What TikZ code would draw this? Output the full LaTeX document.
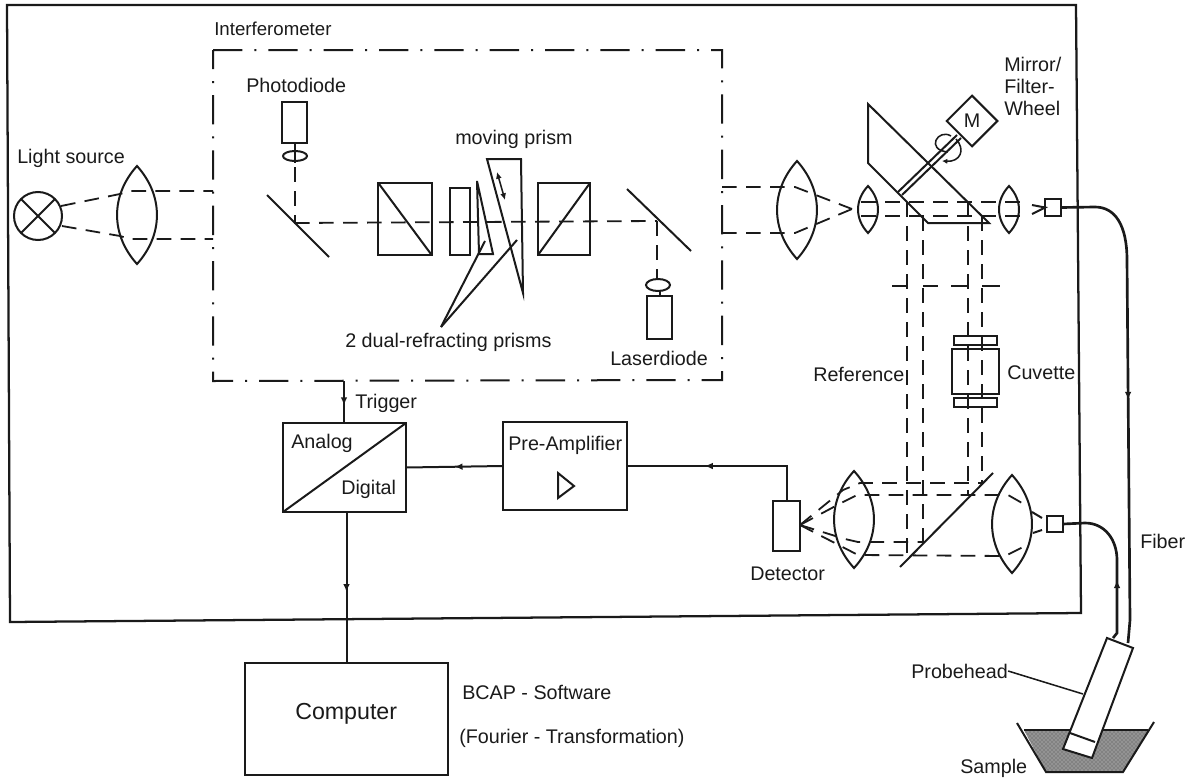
\documentclass[tikz,border=0pt]{standalone}
\usepackage{fontspec}
\setmainfont{Liberation Sans}
\usetikzlibrary{arrows.meta,decorations.markings,shapes.geometric,patterns}
\definecolor{ink}{HTML}{1A1A1A}
\tikzset{
  x=0.75pt,y=-0.75pt,
  solidline/.style={draw=ink,line width=1.5pt},
  frameline/.style={draw=ink,line width=1.7pt},
  thinline/.style={draw=ink,line width=1.15pt},
  fiberline/.style={draw=ink,line width=2pt},
  beam/.style={draw=ink,line width=1.35pt,dash pattern=on 11pt off 7pt},
  dashdot/.style={draw=ink,line width=1.5pt,dash pattern=on 22pt off 9pt on 1.5pt off 9pt},
  lbl/.style={anchor=west,inner sep=0pt,text=ink,font=\fontsize{14.8pt}{16.6pt}\selectfont,align=left},
  boxn/.style={draw=ink,line width=1.5pt,inner sep=0pt,outer sep=0pt},
  midarrow/.style={postaction={decorate,decoration={markings,mark=at position #1 with {\arrow{Latex[length=6pt,width=5pt]}}}}},
}
\newcommand{\lensat}[4]{% x, ytop, ybottom, half-width
  \draw[solidline] (#1,#2) .. controls ({#1-1.33*#4},{#2+0.3*(#3-#2)}) and ({#1-1.33*#4},{#2+0.7*(#3-#2)}) .. (#1,#3)
     .. controls ({#1+1.33*#4},{#2+0.7*(#3-#2)}) and ({#1+1.33*#4},{#2+0.3*(#3-#2)}) .. cycle;}
\begin{document}
\begin{tikzpicture}
\useasboundingbox (0,0) rectangle (1192,778);
% outer frame
\draw[frameline] (7,5) -- (1076,5) -- (1081,613) -- (10,622) -- cycle;
% interferometer frame
\draw[dashdot] (213,50) -- (722,50) -- (722,380) -- (213,381) -- cycle;
\node[lbl,font=\fontsize{14pt}{16pt}\selectfont] (tInt) at (214,29) {Interferometer};
% light source
\node[lbl] (tLight) at (17,158) {Light source};
\node[draw=ink,line width=1.5pt,circle,minimum size=36pt,inner sep=0pt,outer sep=0pt] (lamp) at (38,216) {};
\draw[solidline] (lamp.north west) -- (lamp.south east) (lamp.north east) -- (lamp.south west);
\lensat{137}{166}{264}{20}
\draw[beam] (61,206) -- (120,194) -- (130,191) -- (213,191);
\draw[beam] (62,226) -- (120,236) -- (130,239) -- (213,239);
% photodiode
\node[lbl] (tPhoto) at (246,85) {Photodiode};
\node[boxn,minimum width=18.8pt,minimum height=31pt] (pd) at (294.5,122.5) {};
\draw[solidline] (pd.south) -- ++(0,20);
\draw[solidline] (295,156) ellipse [x radius=12,y radius=5];
\draw[beam] (295,167) -- (295,224);
\draw[solidline] (267,195) -- (329,257);
% main beam
\draw[beam] (295,223) -- (657,221);
\draw[beam] (657,221) -- (657,280);
% cubes
\node[boxn,minimum width=40pt,minimum height=54pt] (cubeA) at (405,219) {};
\draw[solidline] (cubeA.north west) -- (cubeA.south east);
\node[boxn,minimum width=15pt,minimum height=50pt] (plate) at (460,221.5) {};
\node[boxn,minimum width=39pt,minimum height=54pt] (cubeB) at (564,219) {};
\draw[solidline] (cubeB.north east) -- (cubeB.south west);
% prisms
\draw[solidline] (477,181) -- (493,254) -- (479,254) -- cycle;
\draw[solidline] (487,159) -- (521,159) -- (523,293) -- cycle;
\draw[thinline,{Latex[length=5pt,width=4.5pt]}-{Latex[length=5pt,width=4.5pt]}] (497,172) -- (505,200);
\node[lbl] (tMove) at (455,139) {moving prism};
% leaders
\coordinate (lead) at (441,327);
\draw[solidline] (lead) -- (485,241);
\draw[solidline] (lead) -- (517,240);
\node[lbl] (tDual) at (345,342) {2 dual-refracting prisms};
% laser diode
\draw[solidline] (627,189) -- (691,251);
\node[boxn,minimum width=19pt,minimum height=32pt] (ld) at (659.5,317.5) {};
\draw[solidline] (ld.north) -- ++(0,-8);
\draw[solidline,fill=white] (658,285) ellipse [x radius=12,y radius=6];
\node[lbl] (tLaser) at (610,358) {Laserdiode};
% first lens group
\lensat{797}{161}{259}{20}
\draw[beam] (722,187) -- (795,187) -- (852,209);
\draw[beam] (722,233) -- (795,233) -- (852,209);
\lensat{868}{186}{233}{10}
\lensat{1009}{186}{233}{10}
% filter wheel
\draw[solidline] (868,104) -- (868,163) -- (928,223) -- (989,223) -- cycle;
\draw[solidline] (898,192) -- (957,135) (902,195) -- (961,138);
\node[draw=ink,line width=1.5pt,diamond,aspect=1,inner sep=0pt,outer sep=0pt,minimum size=38pt,font=\fontsize{14.8pt}{16pt}\selectfont,text=ink] (motor) at (972,121) {M};
\draw[thinline] (951,136) .. controls (938,128) and (925,150) .. (948,152);
\draw[thinline,-{Latex[length=4pt,width=4pt]}] (956,139) .. controls (966,150) and (960,162) .. (942,161);
\node[lbl] (tMirror) at (1004,86.5) {Mirror/\\Filter-\\Wheel};
% horizontal beams through wheel
\draw[beam] (861,202) -- (1023,202);
\draw[beam] (861,216) -- (1023,216);
\node[boxn,fill=white,minimum width=12pt,minimum height=12.5pt] (portA) at (1053,207.5) {};
\draw[solidline] (1032,205) -- (portA.west) -- (1032,214);
% vertical beams
\draw[beam] (907,202) -- (907,556);
\draw[beam] (923,216) -- (923,544);
\draw[beam] (968,202) -- (968,495);
\draw[beam] (982,216) -- (982,483);
% aperture
\draw[solidline] (892,286) -- (907,286) (923,286) -- (938,286) (951,286) -- (968,286) (982,286) -- (1000,286);
% cuvette
\node[boxn,minimum width=35pt,minimum height=34pt] (cuv) at (975.5,371.5) {};
\node[boxn,minimum width=32pt,minimum height=7pt] (cuvT) at (975.5,340.5) {};
\node[boxn,minimum width=32pt,minimum height=7pt] (cuvB) at (975.5,402.5) {};
\node[lbl] (tCuv) at (1007,373) {Cuvette};
\node[lbl] (tRef) at (813,374) {Reference};
% lower optics
\draw[solidline] (900,567) -- (993,473);
\lensat{854}{471}{568}{20}
\lensat{1012}{475}{573}{20}
\draw[beam] (800,525) -- (843,490) -- (860,483) -- (982,483);
\draw[beam] (800,525) -- (843,502) -- (857,495) -- (1008,495) -- (1022,503);
\draw[beam] (800,525) -- (845,539) -- (858,542) -- (923,542);
\draw[beam] (800,525) -- (858,555) -- (1005,556) -- (1023,547);
\node[boxn,fill=white,minimum width=20pt,minimum height=37.5pt] (det) at (786.5,526) {};
\node[boxn,fill=white,minimum width=12pt,minimum height=12pt] (portB) at (1055,524) {};
\draw[solidline] (1032,512) -- (1042,518) (1033,533) -- (1042,530);
\node[lbl] (tDet) at (750,574) {Detector};
% fibers
\draw[fiberline,midarrow=0.5] (portA.east) -- (1095,207) .. controls (1115,207) and (1127,225) .. (1127,260) -- (1130,620) -- (1128,643);
\draw[fiberline,midarrow=0.38] (1113,638) -- (1117,633) -- (1117,560) .. controls (1117,540) and (1105,523) .. (1085,523) -- (portB.east);
\node[lbl] (tFiber) at (1140,541) {Fiber};
% sample and probe
\fill[gray!85] (1024,730) -- (1046,772) -- (1123,772) -- (1148,730) -- cycle;
\fill[pattern=crosshatch dots,pattern color=black!70] (1024,730) -- (1046,772) -- (1123,772) -- (1148,730) -- cycle;
\draw[solidline] (1017,723) -- (1046,772) -- (1123,772) -- (1154,722);
\draw[solidline] (1024,730) -- (1148,730);
\draw[solidline,fill=white] (1107,638) -- (1133,648) -- (1092,758) -- (1063,749) -- cycle;
\draw[solidline] (1070,733) -- (1095,742);
\node[lbl] (tProbe) at (911,671) {Probehead};
\coordinate (probeSide) at (1083,694);
\draw[thinline] (tProbe.east) -- (probeSide);
\node[lbl] (tSample) at (960,768) {Sample};
% electronics
\node[boxn,minimum width=92.25pt,minimum height=66.75pt] (adc) at (344.5,467.5) {};
\draw[solidline] (adc.south west) -- (adc.north east);
\node[lbl] (tAna) at (291,443) {Analog};
\node[lbl] (tDig) at (341,489) {Digital};
\node[boxn,minimum width=93pt,minimum height=66pt] (pre) at (565,466) {};
\node[lbl] (tPre) at (508,445) {Pre-Amplifier};
\draw[solidline] (558,473) -- (558,498) -- (574,486) -- cycle;
\node[boxn,minimum width=152pt,minimum height=84pt] (comp) at (346.5,719) {};
\node[lbl,font=\fontsize{17.4pt}{20pt}\selectfont] (tComp) at (295,714) {Computer};
\node[lbl] (tBcap) at (462,692) {BCAP - Software};
\node[lbl] (tFour) at (459,738) {(Fourier - Transformation)};
\node[lbl] (tTrig) at (355,403) {Trigger};
\coordinate (trigTop) at (344,381);
\draw[solidline,midarrow=0.58] (trigTop) -- (trigTop |- adc.north);
\draw[solidline,midarrow=0.5] (pre.west) -- (adc.east);
\draw[solidline,midarrow=0.6] (det.north) -- (det.north |- pre.east) -- (pre.east);
\draw[solidline,midarrow=0.53] (adc.south -| comp.north) -- (comp.north);
\end{tikzpicture}
\end{document}
